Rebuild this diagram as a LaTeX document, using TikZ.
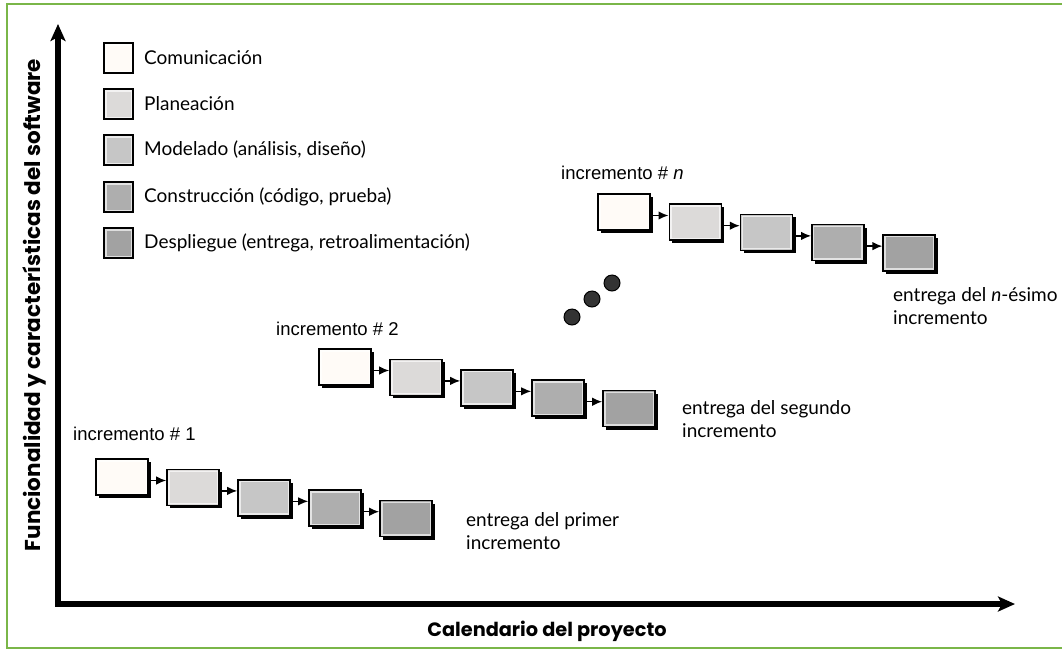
\documentclass[tikz,border=0pt]{standalone}
\usepackage{fontspec}
\setmainfont{Lato}
\newfontfamily\arialf{Liberation Sans}
\newfontfamily\popf{Poppins}
\usetikzlibrary{arrows.meta,shadows,calc}
\definecolor{frameg}{HTML}{7AB648}
\definecolor{fcom}{HTML}{FFFBF7}
\definecolor{fpla}{HTML}{DCDAD9}
\definecolor{fmod}{HTML}{C6C6C6}
\definecolor{fcon}{HTML}{AEAEAE}
\definecolor{fdes}{HTML}{A2A2A2}
\definecolor{dotc}{HTML}{333333}
\begin{document}
\begin{tikzpicture}[x=1pt,y=-1pt,
  ring/.style={path picture={\draw[line width=1.4pt, #1!35!white]
      ([shift={(1.8pt,-1.8pt)}]path picture bounding box.north west) rectangle
      ([shift={(-1.8pt,1.8pt)}]path picture bounding box.south east);}},
  stagebox/.style={draw=black, line width=1.6pt, fill=#1, ring=#1,
      minimum width=52pt, minimum height=36pt, inner sep=0pt,
      drop shadow={shadow xshift=3pt, shadow yshift=-3pt, fill=black, opacity=1}},
  legbox/.style={draw=black, line width=1.8pt, fill=#1, ring=#1,
      minimum width=29pt, minimum height=30pt, inner sep=0pt},
  legtext/.style={anchor=west, inner sep=0pt, font=\fontsize{19}{22}\selectfont},
  inclab/.style={anchor=base west, inner sep=0pt, font=\arialf\fontsize{18.5}{21}\selectfont},
  entlab/.style={anchor=north west, inner sep=0pt, align=left, font=\fontsize{19}{23}\selectfont},
  axlab/.style={inner sep=0pt, font=\popf\bfseries\fontsize{#1}{22}\selectfont},
  stagearrow/.style={line width=1.5pt, -{Latex[length=10pt,width=8.5pt]}},
  axis/.style={line width=5.5pt, line join=miter},
  dot/.style={circle, draw=black, line width=1pt, fill=dotc, minimum size=16pt, inner sep=0pt}
]
\useasboundingbox (0,0) rectangle (1062,649);
% green frame
\draw[frameg, line width=2pt] (1063,4) -- (7,4) -- (7,648) -- (1063,648);

% axes
\coordinate (O) at (58,604);
\coordinate (ytip) at (58,24);
\coordinate (xtip) at (1015,604);
\draw[axis, {Stealth[length=17pt,width=15pt,inset=4pt]}-{Stealth[length=17pt,width=15pt,inset=4pt]}] (ytip) -- (O) -- (xtip);
\node[axlab=21.5, rotate=90] (ylab) at (34,305) {Funcionalidad y características del software};
\node[axlab=19.3] (xlab) at (547,631) {Calendario del proyecto};

% legend
\node[legbox=fcom] (L1) at (118.5,58) {};
\node[legbox=fpla] (L2) at (118.5,104) {};
\node[legbox=fmod] (L3) at (118.5,150) {};
\node[legbox=fcon] (L4) at (118.5,197) {};
\node[legbox=fdes] (L5) at (118.5,243) {};
\node[legtext] (T1) at (144,58) {Comunicación};
\node[legtext] (T2) at (144,104) {Planeación};
\node[legtext] (T3) at (144,150) {Modelado (análisis, diseño)};
\node[legtext] (T4) at (144,197) {Construcción (código, prueba)};
\node[legtext] (T5) at (144,243) {Despliegue (entrega, retroalimentación)};

% increment 1
\node[stagebox=fcom] (a1) at (122,477) {};
\node[stagebox=fpla] (a2) at (193,487.4) {};
\node[stagebox=fmod] (a3) at (264,497.8) {};
\node[stagebox=fcon] (a4) at (335,508.2) {};
\node[stagebox=fdes] (a5) at (406,518.6) {};
\foreach \i/\j in {1/2,2/3,3/4,4/5}
  \draw[stagearrow] ([yshift=-3.5pt]a\i.east) -- ([yshift=-3.5pt]a\i.east -| a\j.west);
\node[inclab] (i1) at (73,440) {incremento \# 1};
\node[entlab] (e1) at (466,512) {entrega del primer\\incremento};

% increment 2
\node[stagebox=fcom] (b1) at (345,367) {};
\node[stagebox=fpla] (b2) at (416,377.4) {};
\node[stagebox=fmod] (b3) at (487,387.8) {};
\node[stagebox=fcon] (b4) at (558,398.2) {};
\node[stagebox=fdes] (b5) at (629,408.6) {};
\foreach \i/\j in {1/2,2/3,3/4,4/5}
  \draw[stagearrow] ([yshift=-3.5pt]b\i.east) -- ([yshift=-3.5pt]b\i.east -| b\j.west);
\node[inclab] (i2) at (276,335) {incremento \# 2};
\node[entlab] (e2) at (682,400) {entrega del segundo\\incremento};

% increment n
\node[stagebox=fcom] (c1) at (624,212) {};
\node[stagebox=fpla] (c2) at (695.3,222.2) {};
\node[stagebox=fmod] (c3) at (766.6,232.4) {};
\node[stagebox=fcon] (c4) at (837.9,242.6) {};
\node[stagebox=fdes] (c5) at (909.2,252.8) {};
\foreach \i/\j in {1/2,2/3,3/4,4/5}
  \draw[stagearrow] ([yshift=-3.5pt]c\i.east) -- ([yshift=-3.5pt]c\i.east -| c\j.west);
\node[inclab] (i3) at (561,179) {incremento \# \textit{n}};
\node[entlab] (e3) at (893,287) {entrega del \textit{n}-ésimo\\incremento};

% dots
\node[dot] (d1) at (572,317) {};
\node[dot] (d2) at (592,299) {};
\node[dot] (d3) at (612,283) {};
\end{tikzpicture}
\end{document}
